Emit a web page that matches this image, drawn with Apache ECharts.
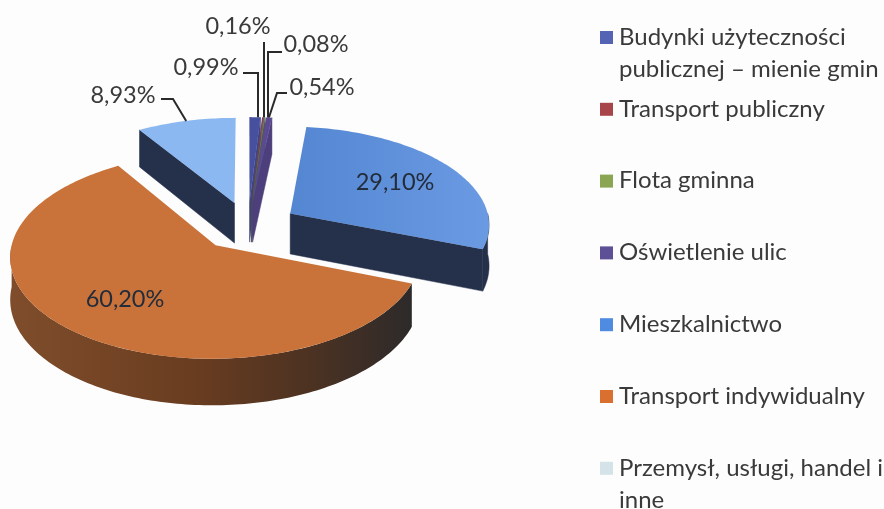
<!DOCTYPE html>
<html>
<head>
<meta charset="utf-8">
<style>
	html, body { margin: 0; padding: 0; background: #fdfdfd; }
	#chart { width: 884px; height: 509px; filter: blur(0.5px); }
</style>
<script src="https://cdn.jsdelivr.net/npm/echarts@6/dist/echarts.min.js"></script>
</head>
<body>
<div id="chart"></div>
<script>
const categories = [
	'Budynki użyteczności\npublicznej – mienie gmin',
	'Transport publiczny',
	'Flota gminna',
	'Oświetlenie ulic',
	'Mieszkalnictwo',
	'Transport indywidualny',
	'Przemysł, usługi, handel i\ninne'
]
const values = [0.99, 0.16, 0.08, 0.54, 29.1, 60.2, 8.93]

const topColors = ['#46509f', '#7d4150', '#6f8a55', '#5b4a92', '#5a8ad4', '#c9733a', '#8bb8f0']
const sideColors = ['#3c4585', '#4f3550', '#4a5a50', '#4c3f7c', '#25304a', '#6a3d20', '#25304a']
const legendColors = ['#5563b4', '#a8454a', '#8ba652', '#5d5096', '#4f8be0', '#d9702f', '#d3e3e8']

// outside labels: text centre, then where the leader line leaves the text
const labelCentres = [[206, 67], [238, 26], [316, 44], [322, 87], null, null, [123, 95]]
const leaderStarts = [[[243, 73], [258, 73]], [[264, 42]], [[282, 52], [268, 52]], [[287, 93], [277, 93]], null, null, [[161, 99], [173, 99]]]

// 3D view of the pie
const originX = 248
const originY = 226
const radiusX = 200
const radiusY = 98
const perspective = 0.1
const explode = 0.25
const depth = 41
const textColor = '#3a3a3a'
const fontFamily = 'Lato, "Noto Sans", sans-serif'

const total = values.reduce((a, b) => a + b, 0)
const starts = []
values.reduce((sum, v, i) => {
	starts[i] = (sum / total) * Math.PI * 2
	return sum + v
}, 0)

function project(slice, r, angle) {
	const mid = starts[slice] + (values[slice] / total) * Math.PI
	const a = explode * Math.sin(mid) + r * Math.sin(angle)
	const b = -explode * Math.cos(mid) - r * Math.cos(angle)
	const w = 1 - perspective * b
	return { x: originX + (radiusX * a) / w, y: originY + (radiusY * b) / w, w }
}

function arcPoints(slice, from, to) {
	const steps = Math.max(2, Math.ceil((to - from) / 0.02))
	const points = []
	for (let i = 0; i <= steps; i++) {
		points.push(project(slice, 1, from + ((to - from) * i) / steps))
	}
	return points
}

const xy = (p) => [p.x, p.y]
const down = (p) => [p.x, p.y + depth / p.w]

function sideFill(i) {
	if (i !== 5) return sideColors[i]
	return new echarts.graphic.LinearGradient(0, 0, 1, 0, [
		{ offset: 0, color: '#7f4d2b' },
		{ offset: 0.45, color: '#6a3d20' },
		{ offset: 0.75, color: '#4c3222' },
		{ offset: 1, color: '#2d2a2a' }
	])
}

function topFill(i) {
	if (i === 4) {
		return new echarts.graphic.LinearGradient(0, 0, 1, 0, [
			{ offset: 0, color: '#5486d2' },
			{ offset: 1, color: '#6a9ae2' }
		])
	}
	return topColors[i]
}

function renderItem(params, api) {
	const i = params.dataIndex
	const value = api.value(0)
	const from = starts[i]
	const to = from + (value / total) * Math.PI * 2
	const mid = (from + to) / 2
	const z = Math.round(-Math.cos(mid) * 100) + 200
	const apex = project(i, 0, 0)
	const children = []

	// cut faces that look toward the viewer
	const faces = []
	if (Math.sin(from) < -0.001) faces.push(from)
	if (Math.sin(to) > 0.001) faces.push(to)
	faces.forEach((angle) => {
		const edge = project(i, 1, angle)
		children.push({
			type: 'polygon',
			z2: z,
			shape: { points: [xy(apex), xy(edge), down(edge), down(apex)] },
			style: { fill: sideColors[i], stroke: sideColors[i], lineWidth: 0.5 }
		})
	})

	// outer wall, only the near half of the rim
	const wallFrom = Math.max(from, Math.PI / 2)
	const wallTo = Math.min(to, (Math.PI * 3) / 2)
	if (wallTo > wallFrom) {
		const rim = arcPoints(i, wallFrom, wallTo)
		children.push({
			type: 'polygon',
			z2: z,
			shape: { points: rim.map(xy).concat(rim.map(down).reverse()) },
			style: { fill: sideFill(i), stroke: i === 5 ? null : sideColors[i], lineWidth: 0.5 }
		})
	}

	// top face
	children.push({
		type: 'polygon',
		z2: z + 1,
		shape: { points: [xy(apex)].concat(arcPoints(i, from, to).map(xy)) },
		style: { fill: topFill(i) }
	})

	// percent label and its leader
	const label = value.toFixed(2).replace('.', ',') + '%'
	const centre = labelCentres[i]
	if (centre) {
		const rimMid = project(i, 1, mid)
		const path = leaderStarts[i]
		const last = path[path.length - 1]
		// the three thin slices keep their leaders upright
		const endX = i < 3 ? last[0] : rimMid.x
		children.push({
			type: 'polyline',
			z2: 500,
			shape: { points: path.concat([[endX, rimMid.y]]) },
			style: { stroke: '#2a2a2a', lineWidth: 2, fill: null }
		})
	}
	const inner = project(i, 0.65, mid)
	children.push({
		type: 'text',
		z2: 501,
		style: {
			x: centre ? centre[0] : inner.x,
			y: centre ? centre[1] : inner.y,
			text: label,
			fill: centre ? textColor : '#232c3a',
			font: '23.5px ' + fontFamily,
			align: 'center',
			verticalAlign: 'middle'
		}
	})

	// legend row
	const rowY = 37 + i * 71.8
	children.push({
		type: 'rect',
		z2: 500,
		shape: { x: 600, y: rowY - 6, width: 13, height: 13 },
		style: { fill: legendColors[i] }
	})
	children.push({
		type: 'text',
		z2: 501,
		style: {
			x: 619,
			y: rowY - 16,
			text: categories[i],
			fill: textColor,
			font: '24px ' + fontFamily,
			lineHeight: 32,
			align: 'left',
			verticalAlign: 'top'
		}
	})

	return { type: 'group', children }
}

const chart = echarts.init(document.getElementById('chart'))
chart.setOption({
	animation: false,
	backgroundColor: '#fdfdfd',
	series: [
		{
			type: 'custom',
			coordinateSystem: 'none',
			silent: true,
			renderItem,
			data: values.map((v) => [v])
		}
	]
})
</script>
</body>
</html>
